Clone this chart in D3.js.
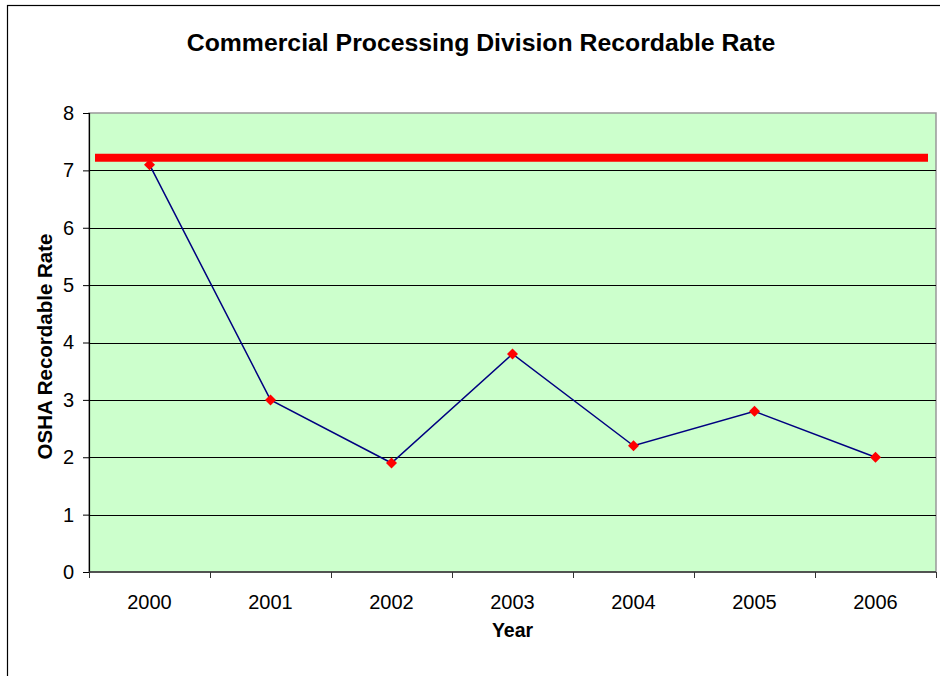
<!DOCTYPE html>
<html>
<head>
<meta charset="utf-8">
<script src="https://cdn.jsdelivr.net/npm/d3@7"></script>
<style>
  body { margin: 0; background: #fff; }
  text { font-family: Arial, "Liberation Sans", sans-serif; }
</style>
</head>
<body>
<div id="chart"></div>
<script>
// chart data
const years = ["2000", "2001", "2002", "2003", "2004", "2005", "2006"];
const rates = [7.1, 3.0, 1.9, 3.8, 2.2, 2.8, 2.0];
const targetRate = 7.22;
const yTicks = [0, 1, 2, 3, 4, 5, 6, 7, 8];

const W = 940, H = 676;
const margin = {top: 113, right: 4, bottom: 104, left: 89},
    width = W - margin.left - margin.right,
    height = H - margin.top - margin.bottom;

const root = d3.select("#chart")
    .append("svg")
    .attr("width", W)
    .attr("height", H);

// outer chart border
root.append("rect")
    .attr("x", 7.5).attr("y", 5.5)
    .attr("width", W).attr("height", H)
    .attr("fill", "#fff")
    .attr("stroke", "#000")
    .attr("stroke-width", 1.2);

root.append("text")
    .attr("x", 481).attr("y", 51)
    .attr("text-anchor", "middle")
    .style("font-size", "24.8px")
    .style("font-weight", "bold")
    .text("Commercial Processing Division Recordable Rate");

const svg = root.append("g")
    .attr("transform", `translate(${margin.left}, ${margin.top})`);

const x = d3.scaleBand()
    .domain(years)
    .range([0, width]);

const y = d3.scaleLinear()
    .domain([0, 8])
    .range([height, 0]);

// plot area
svg.append("rect")
    .attr("width", width).attr("height", height)
    .attr("fill", "#ccffcc")
    .attr("stroke", "#999")
    .attr("stroke-width", 1.5);

// gridlines
svg.append("g")
    .selectAll("line")
    .data(yTicks.slice(1, -1))
    .join("line")
    .attr("x1", 0).attr("x2", width)
    .attr("y1", d => Math.round(y(d)) + 0.5)
    .attr("y2", d => Math.round(y(d)) + 0.5)
    .attr("stroke", "#000")
    .attr("stroke-width", 1);

// y axis
const yAxis = svg.append("g")
    .call(d3.axisLeft(y).tickValues(yTicks).tickSize(6).tickPadding(9));
yAxis.select(".domain").attr("stroke", "#000").attr("stroke-width", 1.2);
yAxis.selectAll("text").style("font-size", "20px").attr("fill", "#000");

// x axis: ticks on category boundaries
const xg = svg.append("g")
    .attr("transform", `translate(0, ${height})`);
xg.append("line")
    .attr("x1", 0).attr("x2", width)
    .attr("stroke", "#333").attr("stroke-width", 1.5);
xg.selectAll(".tk")
    .data(years.concat(["end"]))
    .join("line")
    .attr("class", "tk")
    .attr("x1", (d, i) => Math.round(i * x.bandwidth()) + 0.5)
    .attr("x2", (d, i) => Math.round(i * x.bandwidth()) + 0.5)
    .attr("y1", 0).attr("y2", 6)
    .attr("stroke", "#333");
xg.selectAll(".lbl")
    .data(years)
    .join("text")
    .attr("class", "lbl")
    .attr("x", d => x(d) + x.bandwidth() / 2)
    .attr("y", 37)
    .attr("text-anchor", "middle")
    .style("font-size", "20px")
    .text(d => d);

// axis titles
svg.append("text")
    .attr("x", width / 2).attr("y", height + 65)
    .attr("text-anchor", "middle")
    .style("font-size", "19.5px")
    .style("font-weight", "bold")
    .text("Year");

svg.append("text")
    .attr("transform", `translate(${-37}, ${height / 2 + 4}) rotate(-90)`)
    .attr("text-anchor", "middle")
    .style("font-size", "20.5px")
    .style("font-weight", "bold")
    .text("OSHA Recordable Rate");

// target line
svg.append("line")
    .attr("x1", 6).attr("x2", width - 8)
    .attr("y1", y(targetRate)).attr("y2", y(targetRate))
    .attr("stroke", "#ff0000")
    .attr("stroke-width", 8);

// series
const pts = years.map((d, i) => ({year: d, value: rates[i]}));
const line = d3.line()
    .x(d => x(d.year) + x.bandwidth() / 2)
    .y(d => y(d.value));

svg.append("path")
    .datum(pts)
    .attr("d", line)
    .attr("fill", "none")
    .attr("stroke", "#000080")
    .attr("stroke-width", 1.5);

svg.append("g")
    .selectAll("path")
    .data(pts)
    .join("path")
    .attr("transform", d => `translate(${x(d.year) + x.bandwidth() / 2}, ${y(d.value)})`)
    .attr("d", "M0,-5.5L5.5,0L0,5.5L-5.5,0Z")
    .attr("fill", "#ff0000");
</script>
</body>
</html>
